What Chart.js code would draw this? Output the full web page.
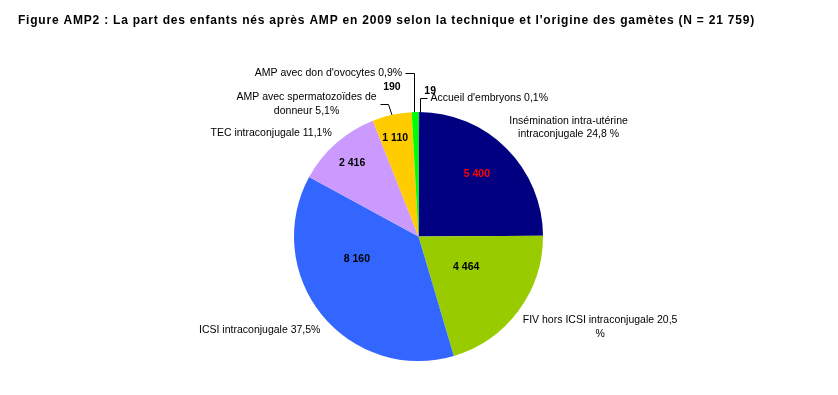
<!DOCTYPE html>
<html>
<head>
<meta charset="utf-8">
<script src="https://cdn.jsdelivr.net/npm/chart.js@4"></script>
<style>
  html, body { margin: 0; padding: 0; background: #fff; }
</style>
</head>
<body>
<canvas id="chart" width="838" height="395"></canvas>
<script>
const titre = "Figure AMP2 : La part des enfants nés après AMP en 2009 selon la technique et l'origine des gamètes (N = 21 759)";

// parts, dans le sens horaire depuis midi
const categories = [
  ["Accueil d'embryons 0,1%"],
  ["Insémination intra-utérine", "intraconjugale 24,8 %"],
  ["FIV hors ICSI intraconjugale 20,5", "%"],
  ["ICSI intraconjugale 37,5%"],
  ["TEC intraconjugale 11,1%"],
  ["AMP avec spermatozoïdes de", "donneur 5,1%"],
  ["AMP avec don d'ovocytes 0,9%"],
];
const enfants = [19, 5400, 4464, 8160, 2416, 1110, 190];
const couleurs = ['#000080', '#000080', '#99cc00', '#3366ff', '#cc99ff', '#ffcc00', '#00ff00'];
const couleursValeurs = ['#000', '#f00', '#000', '#000', '#000', '#000', '#000'];

// étiquettes : [angle en degrés depuis midi, distance en fraction du rayon]
const posValeurs = [[4.6, 1.173], [43.2, 0.685], [122.9, 0.456], [249.7, 0.528], [317.9, 0.795], [346.7, 0.813], [349.9, 1.218]];
const posNoms = [[27.1, 1.247], [54.0, 1.49], [116.5, 1.63], [239.5, 1.48], [305, 1.445], [319.8, 1.393], [331.1, 1.497]];
// traits de rappel : côté du texte, décalage du coude, trait oblique ou vertical
const renvois = { 0: { cote: -1, coude: 1.5 }, 5: { cote: 1, coude: -3.5, oblique: true }, 6: { cote: 1, coude: -1.5 } };

const police = '"Liberation Sans", Arial, sans-serif';
const milliers = v => String(v).replace(/\B(?=(\d{3})+(?!\d))/g, ' ');

const etiquettes = {
  id: 'etiquettes',
  afterDraw(chart) {
    const ctx = chart.ctx;
    const arcs = chart.getDatasetMeta(0).data;
    const cx = arcs[0].x, cy = arcs[0].y, R = arcs[0].outerRadius;
    const pt = (deg, f) => {
      const a = deg * Math.PI / 180;
      return { x: cx + R * f * Math.sin(a), y: cy - R * f * Math.cos(a) };
    };

    ctx.save();
    // titre
    ctx.font = 'bold 12px ' + police;
    ctx.fillStyle = '#000';
    ctx.textBaseline = 'middle';
    ctx.textAlign = 'left';
    const w = ctx.measureText(titre).width;
    ctx.letterSpacing = ((737 - w) / titre.length) + 'px';
    ctx.fillText(titre, 18, 20.5);
    ctx.letterSpacing = '0px';

    // valeurs
    ctx.font = 'bold 10.5px ' + police;
    ctx.textAlign = 'center';
    enfants.forEach((v, i) => {
      const p = pt(posValeurs[i][0], posValeurs[i][1]);
      ctx.fillStyle = couleursValeurs[i];
      ctx.fillText(milliers(v), p.x, p.y);
    });

    // noms
    ctx.font = '10.5px ' + police;
    ctx.fillStyle = '#000';
    ctx.strokeStyle = '#000';
    ctx.lineWidth = 1;
    categories.forEach((lignes, i) => {
      const p = pt(posNoms[i][0], posNoms[i][1]);
      const h = 13.5;
      const y0 = p.y - (lignes.length - 1) * h / 2;
      lignes.forEach((t, k) => ctx.fillText(t, p.x, y0 + k * h));

      const r = renvois[i];
      if (!r) return;
      const larg = Math.max(...lignes.map(t => ctx.measureText(t).width));
      const arc = arcs[i];
      const mid = (arc.startAngle + arc.endAngle) / 2;
      const bord = { x: cx + R * Math.cos(mid), y: cy + R * Math.sin(mid) };
      const xd = Math.round(p.x + r.cote * (larg / 2 + 3)) + 0.5;
      const yd = Math.round(p.y) + 0.5;
      const xc = Math.round(bord.x + r.coude) + 0.5;
      ctx.beginPath();
      ctx.moveTo(xd, yd);
      ctx.lineTo(xc, yd);
      if (r.oblique) ctx.lineTo(bord.x, bord.y);
      else ctx.lineTo(xc, cy - Math.sqrt(R * R - (xc - cx) * (xc - cx)));
      ctx.stroke();
    });
    ctx.restore();
  }
};

new Chart(document.getElementById('chart'), {
  type: 'pie',
  data: {
    labels: categories.map(l => l.join(' ')),
    datasets: [{ data: enfants, backgroundColor: couleurs, borderWidth: 0 }]
  },
  options: {
    responsive: false,
    animation: false,
    devicePixelRatio: 1,
    layout: { padding: { left: 294, right: 295, top: 112, bottom: 34 } },
    plugins: { legend: { display: false }, tooltip: { enabled: false } }
  },
  plugins: [etiquettes]
});
</script>
</body>
</html>
